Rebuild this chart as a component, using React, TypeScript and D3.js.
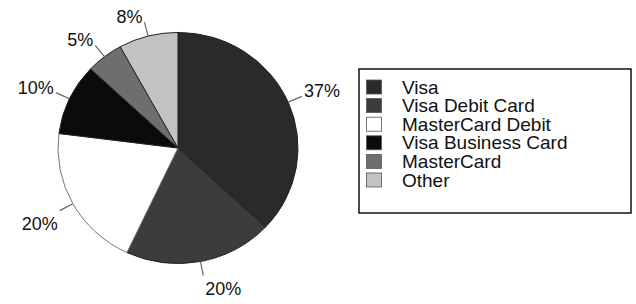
import React from "react";
import * as d3 from "d3";

const categories = ["Visa", "Visa Debit Card", "MasterCard Debit", "Visa Business Card", "MasterCard", "Other"];
const values = [37, 20, 20, 10, 5, 8];
const colors = ["#2a2a2a", "#3c3c3c", "#ffffff", "#0b0b0b", "#6e6e6e", "#c2c2c2"];

const W = 636;
const H = 304;
const cx = 178;
const cy = 148;
const R = 120;
const yScale = 0.963;
const font = "'Liberation Sans', Arial, sans-serif";

export default function App() {
  const data = categories.map((c, i) => ({ name: c, value: values[i], color: colors[i] }));
  const pie = d3
    .pie<any>()
    .sort(null)
    .value((d: any) => d.value)
    .startAngle(0)
    .endAngle(2 * Math.PI);
  const arcs = pie(data);
  const arc = d3.arc<any>().innerRadius(0).outerRadius(R);

  const pt = (a: number, r: number) => [cx + Math.sin(a) * r, cy - Math.cos(a) * r * yScale];

  const legendX = 359;
  const legendY = 69;
  const rowH = 18.6;

  return (
    <svg width={W} height={H} style={{ position: "absolute", left: 0, top: 0 }}>
      <rect x={0} y={0} width={W} height={H} fill="#fff" />
      <g transform={`translate(${cx},${cy}) scale(1,${yScale})`}>
        {arcs.map((a, i) => (
          <path
            key={i}
            d={arc(a) as string}
            fill={a.data.color}
            stroke={a.data.color === "#ffffff" ? "#777" : "#222"}
            strokeWidth={1}
            vectorEffect="non-scaling-stroke"
          />
        ))}
      </g>
      {arcs.map((a, i) => {
        const mid = (a.startAngle + a.endAngle) / 2;
        const [x1, y1] = pt(mid, R);
        const [x2, y2] = pt(mid, R + 15);
        const s = Math.sin(mid);
        const c = Math.cos(mid);
        const anchor = s > 0 ? "start" : "end";
        const tx = x2 + (s > 0 ? 2 : -2);
        const ty = c > 0 ? y2 + 1 : y2 + 19;
        return (
          <g key={"l" + i}>
            <line x1={x1} y1={y1} x2={x2} y2={y2} stroke="#666" strokeWidth={1.2} />
            <text x={tx} y={ty} textAnchor={anchor} fontFamily={font} fontSize={18} fill="#111">
              {`${a.data.value}%`}
            </text>
          </g>
        );
      })}
      <rect x={legendX} y={legendY} width={272} height={144} fill="#fff" stroke="#111" strokeWidth={1.5} />
      {data.map((d, i) => {
        const rc = legendY + 18 + i * rowH;
        return (
          <g key={"g" + i}>
            <rect x={366.5} y={rc - 7} width={15} height={14} fill={d.color} stroke="#555" strokeWidth={0.8} />
            <text x={402} y={rc + 6.6} fontFamily={font} fontSize={19} fill="#111">
              {d.name}
            </text>
          </g>
        );
      })}
    </svg>
  );
}
